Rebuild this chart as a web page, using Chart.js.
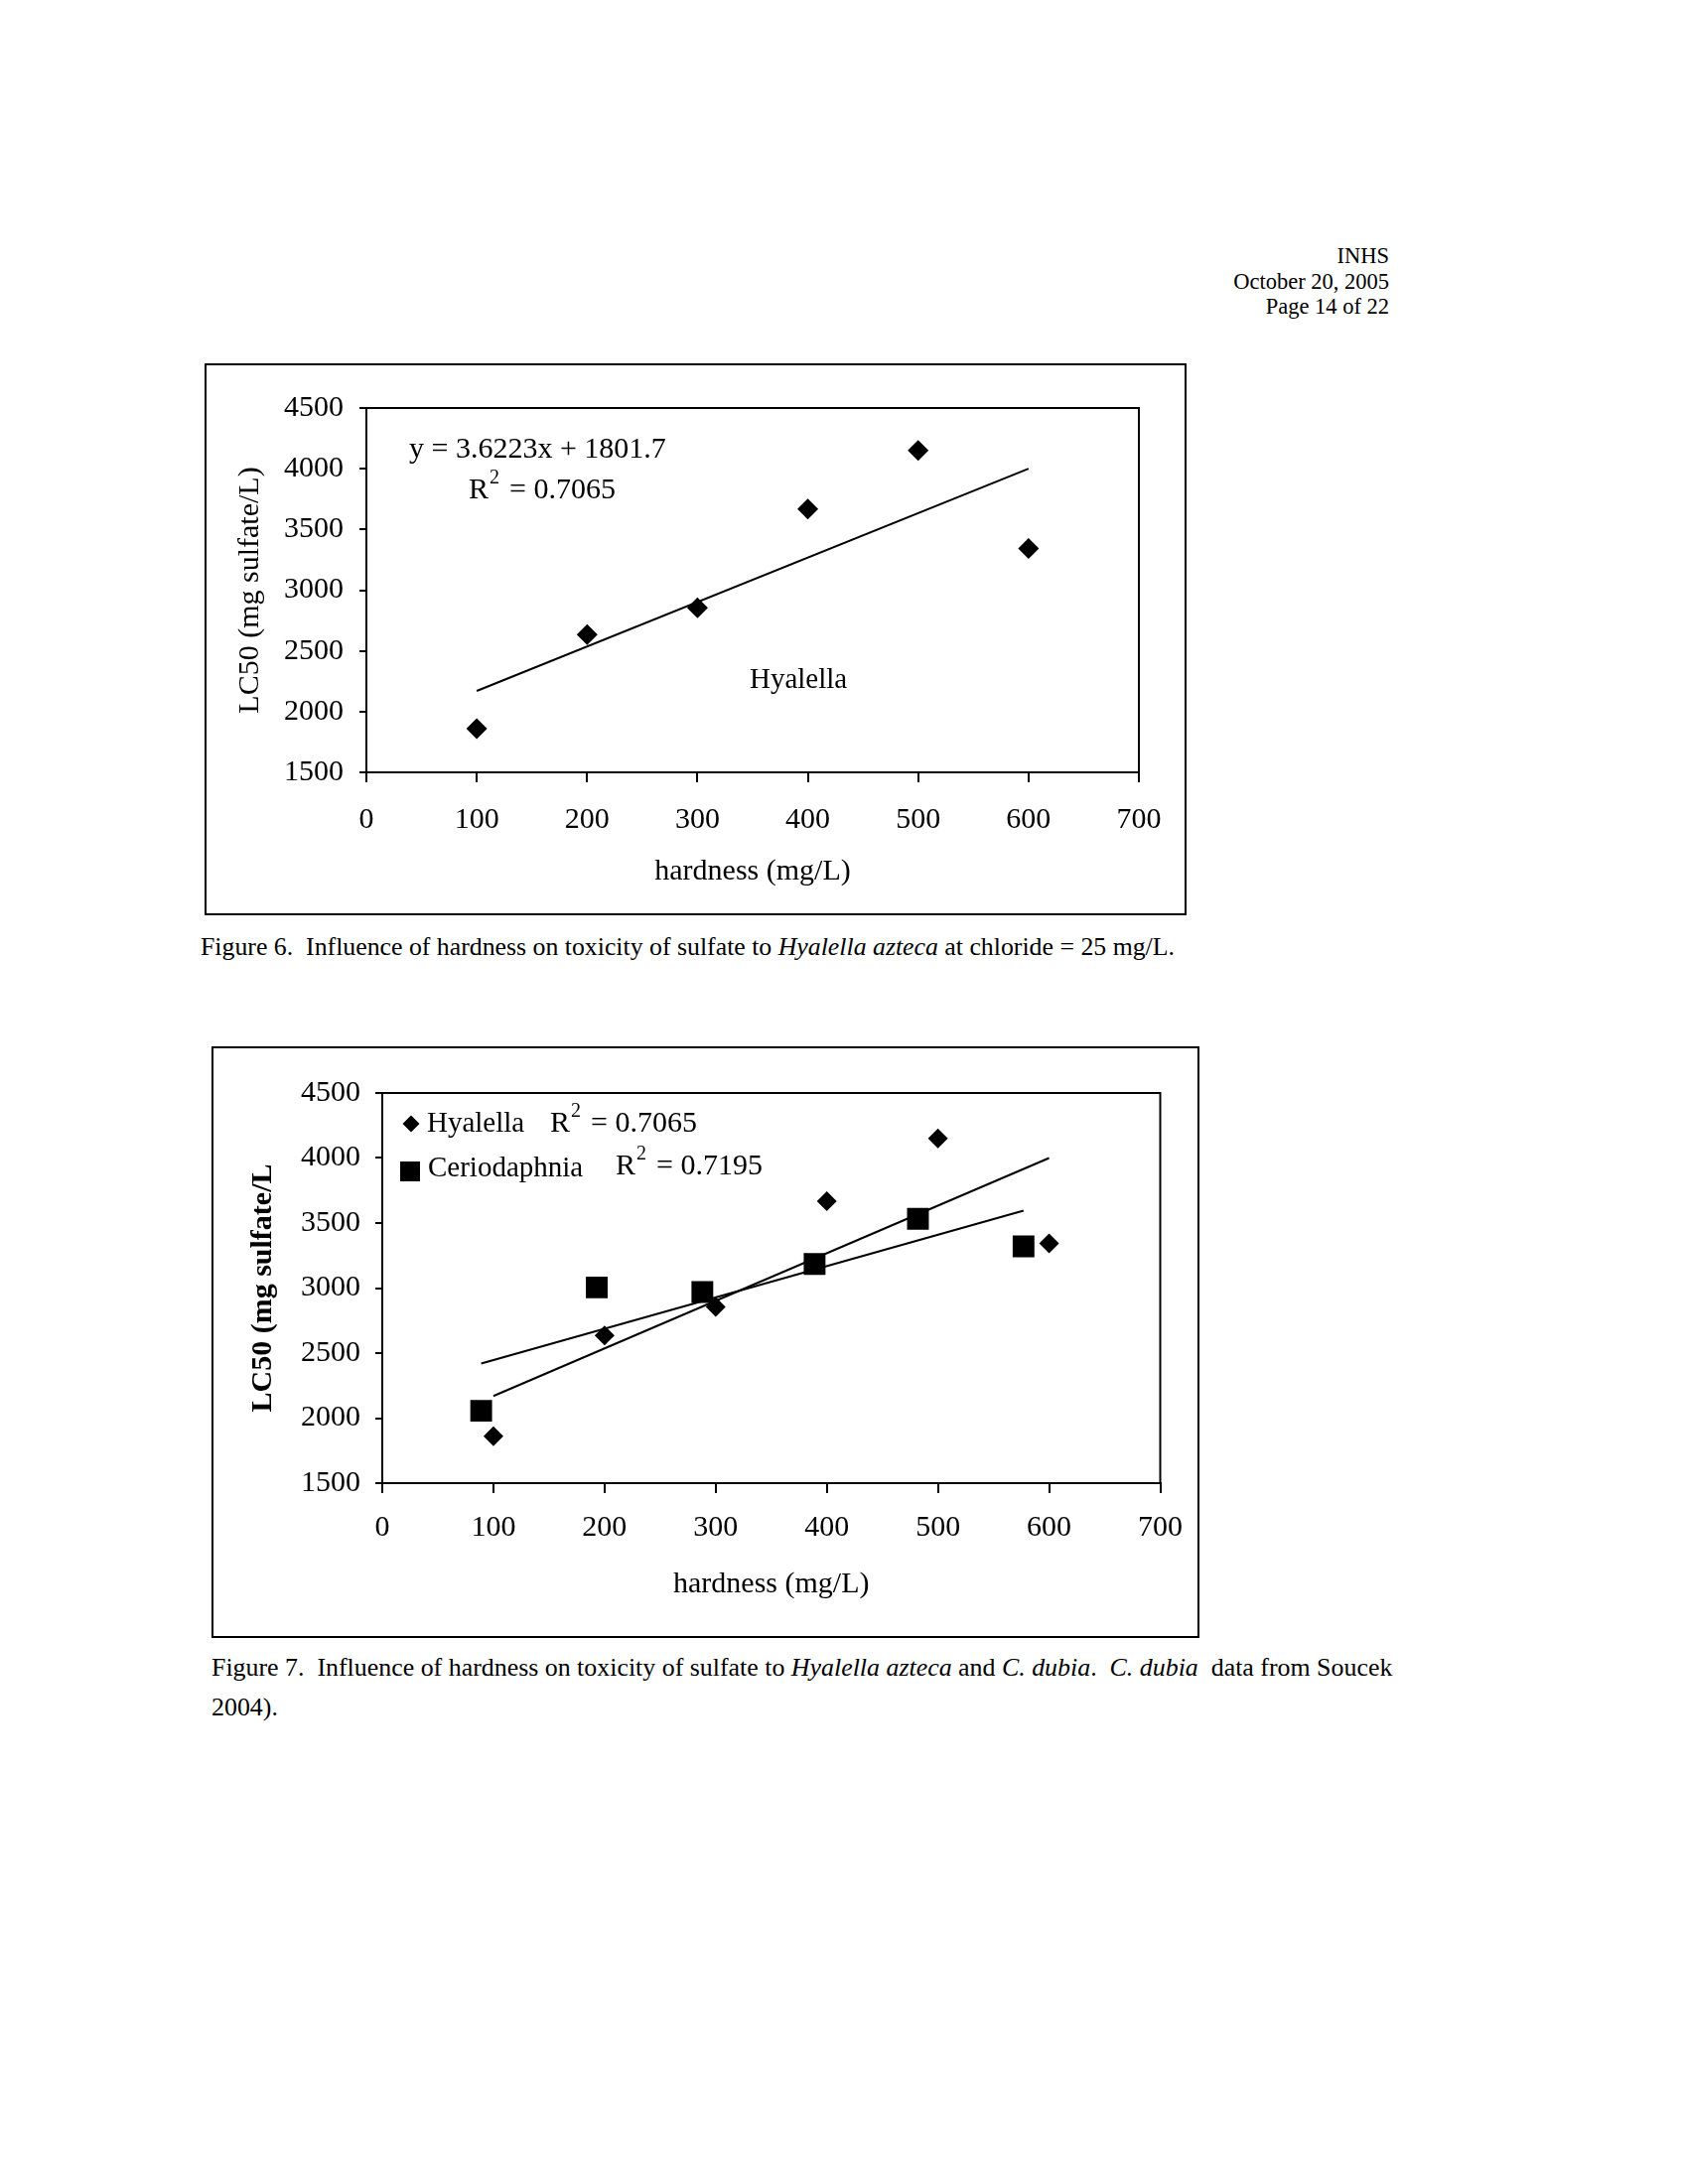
<!DOCTYPE html>
<html><head><meta charset="utf-8">
<script src="https://cdn.jsdelivr.net/npm/chart.js@4.4.1/dist/chart.umd.min.js"></script>
<style>
body{margin:0;background:#fff;width:1696px;height:2200px;position:relative;overflow:hidden;font-family:"Liberation Serif","Times New Roman",serif;color:#000;}
.abs{position:absolute;white-space:nowrap;}
.box{position:absolute;border:2px solid #000;box-sizing:border-box;}
canvas{position:absolute;}
</style></head><body>
<div class="abs" style="right:297px;top:245px;text-align:right;font-size:22.5px;line-height:25.5px;">INHS<br>October 20, 2005<br>Page 14 of 22</div>

<div class="box" style="left:206px;top:366px;width:989px;height:556px;"></div>
<canvas id="c1" width="989" height="556" style="left:206px;top:366px;"></canvas>
<div class="abs" style="left:202px;top:939px;font-size:25.8px;line-height:30px;">Figure 6.&nbsp; Influence of hardness on toxicity of sulfate to <i>Hyalella azteca</i> at chloride = 25 mg/L.</div>

<div class="box" style="left:213px;top:1054px;width:995px;height:596px;"></div>
<canvas id="c2" width="995" height="596" style="left:213px;top:1054px;"></canvas>
<div class="abs" style="left:213px;top:1660px;font-size:25.9px;line-height:40px;">Figure 7.&nbsp; Influence of hardness on toxicity of sulfate to <i>Hyalella azteca</i> and <i>C. dubia</i>.&nbsp; <i>C. dubia</i>&nbsp; data from Soucek<br>2004).</div>

<script>
// ---- data ----
const hardness = [100, 200, 300, 400, 500, 600];
const hyalellaLC50 = [1860, 2635, 2855, 3668, 4150, 3343];
const cerioHardness = [89, 193, 288, 389, 482, 577];
const cerioLC50 = [2056, 3005, 2970, 3185, 3532, 3321];
const hyalellaTrendX = [100, 600];
const hyalellaTrendY = [2170, 4000];
const cerioTrendX = [89, 577];
const cerioTrendY = [2420, 3595];
const xMin = 0, xMax = 700, xStep = 100;
const yMin = 1500, yMax = 4500, yStep = 500;
const eqText = 'y = 3.6223x + 1801.7';
const hyalellaR2 = '0.7065';
const cerioR2 = '0.7195';
const xTitle = 'hardness (mg/L)';
const yTitle1 = 'LC50 (mg sulfate/L)';
const yTitle2 = 'LC50 (mg sulfate/L';

const FAM = "'Liberation Serif','Times New Roman',serif";
const pts = (xs, ys) => xs.map((x, i) => ({x, y: ys[i]}));

function drawR2(ctx, x, cy, val, size, gap) {
  ctx.font = size + 'px ' + FAM;
  ctx.textBaseline = 'middle';
  ctx.textAlign = 'left';
  ctx.fillText('R', x, cy);
  let w = ctx.measureText('R').width;
  ctx.font = Math.round(size * 0.65) + 'px ' + FAM;
  ctx.fillText('2', x + w + 1, cy - size * 0.42);
  w += ctx.measureText('2').width + 1;
  ctx.font = size + 'px ' + FAM;
  ctx.fillText('= ' + val, x + w + gap, cy);
}

function makePlugin(drawText) {
  return {
    id: 'frame',
    beforeDatasetsDraw(chart) {
      const {ctx, chartArea: a} = chart;
      ctx.save();
      ctx.strokeStyle = '#000';
      ctx.lineWidth = 2;
      ctx.strokeRect(a.left, a.top, a.right - a.left, a.bottom - a.top);
      ctx.restore();
    },
    afterDraw(chart) {
      const ctx = chart.ctx;
      ctx.save();
      ctx.fillStyle = '#000';
      drawText(ctx, chart);
      ctx.restore();
    }
  };
}

function scales(cfg) {
  return {
    x: {
      type: 'linear', min: xMin, max: xMax,
      ticks: {stepSize: xStep, color: '#000', font: {family: FAM, size: 30}, padding: cfg.xPad, maxRotation: 0, autoSkip: false, callback: v => String(v)},
      grid: {drawOnChartArea: false, drawTicks: true, tickLength: 10, color: '#000', lineWidth: 2},
      border: {display: true, color: '#000', width: 2},
      title: {display: true, text: xTitle, color: '#000', font: {family: FAM, size: 30}, padding: {top: 0, bottom: cfg.xTitlePad}},
      afterFit(s) { s.height = cfg.xH; }
    },
    y: {
      type: 'linear', min: yMin, max: yMax,
      ticks: {stepSize: yStep, color: '#000', font: {family: FAM, size: 30}, padding: cfg.yPad, callback: v => String(v)},
      grid: {drawOnChartArea: false, drawTicks: true, tickLength: 7, color: '#000', lineWidth: 2},
      border: {display: true, color: '#000', width: 2},
      title: {display: true, text: cfg.yTitle, color: '#000', font: {family: FAM, size: 30, weight: cfg.yBold ? 'bold' : 'normal'}, padding: {top: cfg.yTitlePad, bottom: 0}},
      afterFit(s) { s.width = cfg.yW; }
    }
  };
}

const common = {
  responsive: false, animation: false, devicePixelRatio: 1,
  plugins: {legend: {display: false}, tooltip: {enabled: false}}
};

// ---- Chart 1 ----
new Chart(document.getElementById('c1'), {
  type: 'scatter',
  data: {datasets: [
    {data: pts(hyalellaTrendX, hyalellaTrendY), showLine: true, borderColor: '#000', borderWidth: 2, pointRadius: 0},
    {data: pts(hardness, hyalellaLC50), pointStyle: 'rectRot', pointRadius: 10.5, backgroundColor: '#000', borderColor: '#000', borderWidth: 0}
  ]},
  options: Object.assign({}, common, {
    layout: {padding: {top: 45, right: 48, left: 0, bottom: 0}},
    scales: scales({xPad: 20, xTitlePad: 26, xH: 144, yPad: 16, yTitlePad: 28, yW: 163, yTitle: yTitle1, yBold: false})
  }),
  plugins: [makePlugin((ctx) => {
    ctx.font = '30px ' + FAM;
    ctx.textBaseline = 'middle';
    ctx.textAlign = 'left';
    ctx.fillText(eqText, 206, 87);
    drawR2(ctx, 266, 128, hyalellaR2, 30, 10);
    ctx.font = '29px ' + FAM;
    ctx.fillText('Hyalella', 549, 319);
  })]
});

// ---- Chart 2 ----
new Chart(document.getElementById('c2'), {
  type: 'scatter',
  data: {datasets: [
    {data: pts(hyalellaTrendX, hyalellaTrendY), showLine: true, borderColor: '#000', borderWidth: 2, pointRadius: 0},
    {data: pts(cerioTrendX, cerioTrendY), showLine: true, borderColor: '#000', borderWidth: 2, pointRadius: 0},
    {data: pts(hardness, hyalellaLC50), pointStyle: 'rectRot', pointRadius: 10, backgroundColor: '#000', borderColor: '#000', borderWidth: 0},
    {data: pts(cerioHardness, cerioLC50), pointStyle: 'rect', pointRadius: 15.5, backgroundColor: '#000', borderColor: '#000', borderWidth: 0}
  ]},
  options: Object.assign({}, common, {
    layout: {padding: {top: 47, right: 34, left: 0, bottom: 0}},
    scales: scales({xPad: 17, xTitlePad: 36, xH: 156, yPad: 15, yTitlePad: 34, yW: 172, yTitle: yTitle2, yBold: true})
  }),
  plugins: [makePlugin((ctx) => {
    // legend diamond
    ctx.beginPath();
    ctx.moveTo(201 - 8.5, 78); ctx.lineTo(201, 78 - 8.5); ctx.lineTo(201 + 8.5, 78); ctx.lineTo(201, 78 + 8.5);
    ctx.closePath(); ctx.fill();
    // legend square
    ctx.fillRect(200 - 10, 126 - 10, 20, 20);
    ctx.font = '29px ' + FAM;
    ctx.textBaseline = 'middle';
    ctx.textAlign = 'left';
    ctx.fillText('Hyalella', 217, 78);
    ctx.fillText('Ceriodaphnia', 218, 123);
    drawR2(ctx, 341, 78, hyalellaR2, 30, 10);
    drawR2(ctx, 407, 121, cerioR2, 30, 10);
  })]
});
</script>
</body></html>
